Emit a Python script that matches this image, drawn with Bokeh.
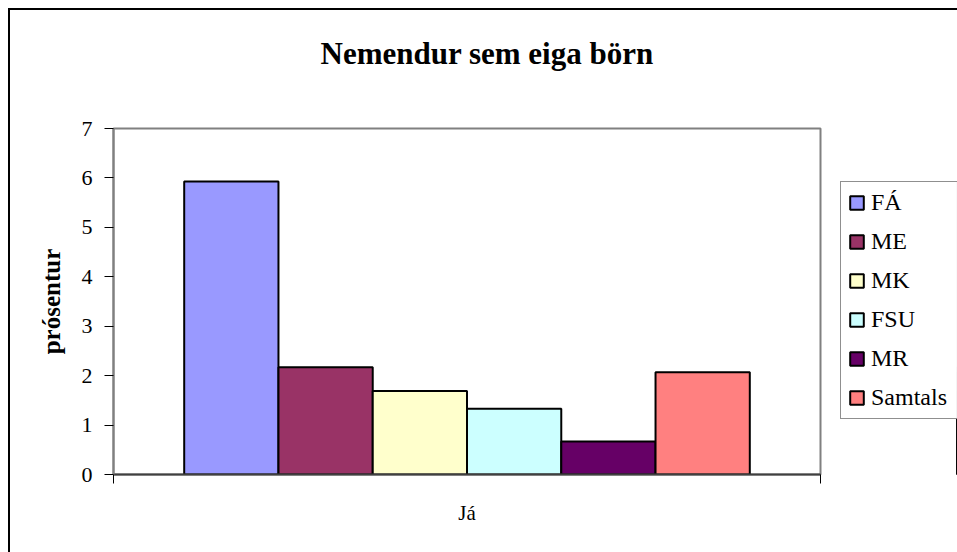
from bokeh.plotting import figure
from bokeh.models import (Range1d, FixedTicker, Legend, LegendItem, ColumnDataSource, Title)
from bokeh.layouts import row
from bokeh.embed import file_html
from bokeh.resources import INLINE
import numpy as np

# ---- data ----
title_text = "Nemendur sem eiga börn"
y_label = "prósentur"
group_label = "Já"
series = ["FÁ", "ME", "MK", "FSU", "MR", "Samtals"]
values = [5.93, 2.17, 1.69, 1.33, 0.67, 2.07]
colors = ["#9999FF", "#993366", "#FFFFCC", "#CCFFFF", "#660066", "#FF8080"]
y_ticks = [0, 1, 2, 3, 4, 5, 6, 7]

FONT = "Liberation Serif"

n = len(series)
slots = n + 1.5               # category width in bar units (gap of 0.75 bar each side)
xpos = 0.75 + 0.5 + np.arange(n)

p = figure(width=820, height=542, output_backend="svg", toolbar_location=None,
           x_range=Range1d(0, slots), y_range=Range1d(0, 7),
           min_border_left=103, min_border_right=10, min_border_top=118,
           min_border_bottom=78)

p.background_fill_color = "white"
p.border_fill_color = "white"
p.outline_line_color = "#808080"
p.outline_line_width = 2
p.xgrid.visible = False
p.ygrid.visible = False

for i in range(n):
    src = ColumnDataSource(dict(x=[xpos[i]], top=[values[i]]))
    p.vbar(x="x", top="top", bottom=0, width=1.0, source=src,
           fill_color=colors[i], line_color="black", line_width=2)

# title (with an empty spacer title between it and the plot area)
p.title.text = title_text
p.title.text_font = FONT
p.title.text_font_size = "31px"
p.title.text_font_style = "bold"
p.title.text_color = "black"
p.title.align = "left"
p.title.offset = 207
p.title.standoff = 10
p.add_layout(Title(text=" ", text_font=FONT, text_font_size="31px", standoff=16), "above")

# y axis
yax = p.yaxis[0]
yax.ticker = FixedTicker(ticks=y_ticks)
yax.axis_line_color = "#808080"
yax.axis_line_width = 2
yax.major_tick_line_color = "black"
yax.major_tick_out = 9
yax.major_tick_in = 0
yax.minor_tick_line_color = None
yax.major_label_text_font = FONT
yax.major_label_text_font_size = "22px"
yax.major_label_text_color = "black"
yax.major_label_standoff = 12
yax.axis_label = y_label
yax.axis_label_text_font = FONT
yax.axis_label_text_font_size = "25px"
yax.axis_label_text_font_style = "bold"
yax.axis_label_text_color = "black"
yax.axis_label_standoff = 14

# x axis
xax = p.xaxis[0]
xax.ticker = FixedTicker(ticks=[slots / 2], minor_ticks=[0, slots])
xax.major_label_overrides = {slots / 2: group_label}
xax.axis_line_color = "#404040"
xax.axis_line_width = 2
xax.major_tick_line_color = None
xax.minor_tick_line_color = "black"
xax.minor_tick_out = 9
xax.minor_tick_in = 0
xax.major_label_text_font = FONT
xax.major_label_text_font_size = "21px"
xax.major_label_text_color = "black"
xax.major_label_standoff = 17

# legend panel (separate canvas to the right of the plot area; its own
# copies of the bars lie outside its visible range, they only feed the legend)
pl = figure(width=127, height=542, output_backend="svg", toolbar_location=None,
            x_range=Range1d(-2, -1), y_range=Range1d(0, 7),
            x_axis_type=None, y_axis_type=None, min_border=0)
pl.outline_line_color = None
pl.background_fill_color = "white"
pl.border_fill_color = "white"

items = []
for i in range(n):
    src = ColumnDataSource(dict(x=[xpos[i]], top=[values[i]]))
    r = pl.vbar(x="x", top="top", bottom=0, width=1.0, source=src,
                fill_color=colors[i], line_color="black", line_width=2)
    items.append(LegendItem(label=series[i], renderers=[r]))

legend = Legend(items=items, location=(10, 55))
legend.label_text_font = FONT
legend.label_text_font_size = "24px"
legend.label_text_color = "black"
legend.glyph_width = 17
legend.glyph_height = 17
legend.label_height = 20
legend.label_width = 92
legend.spacing = 12
legend.padding = 7
legend.margin = 0
legend.label_standoff = 6
legend.border_line_color = "#202020"
legend.border_line_width = 1.5
legend.background_fill_color = "white"
pl.add_layout(legend, "center")

layout = row(p, pl)
layout.styles = {"margin-left": "8px", "margin-top": "8px",
                 "border-left": "2px solid black", "border-top": "2px solid black"}

open("out.html", "w").write(file_html(layout, INLINE))
